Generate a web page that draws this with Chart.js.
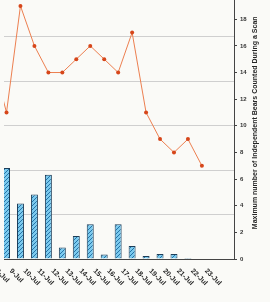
<!DOCTYPE html>
<html>
<head>
    <meta charset="utf-8">
    <title>Bears counted per scan</title>
    <script src="https://cdn.jsdelivr.net/npm/chart.js"></script> <!-- Chart.js for graphs -->
    <style>
        html, body {
            margin: 0;
            padding: 0;
            background-color: #fafaf7;
            overflow: hidden;
        }
        /* the reference is a crop of a bigger chart, so the canvas hangs off the top edge */
        #wrap {
            position: absolute;
            left: 0;
            top: -14px;
            width: 270px;
            height: 316px;
        }
    </style>
</head>
<body>
<div id="wrap"><canvas id="bearChart"></canvas></div>

<script>
    const days = ['8-Jul', '9-Jul', '10-Jul', '11-Jul', '12-Jul', '13-Jul', '14-Jul', '15-Jul',
                  '16-Jul', '17-Jul', '18-Jul', '19-Jul', '20-Jul', '21-Jul', '22-Jul', '23-Jul'];
    // line on the right axis
    const maxBears = [15, 11, 19, 16, 14, 14, 15, 16, 15, 14, 17, 11, 9, 8, 9, 7];
    // bars on the (cropped) left axis
    const bearRate = [null, 2.05, 1.25, 1.45, 1.9, 0.26, 0.52, 0.78, 0.1, 0.78, 0.29, 0.07, 0.11, 0.11, 0.02, 0];
    const rightTicks = [0, 2, 4, 6, 8, 10, 12, 14, 16, 18, 20];
    const rightTitle = 'Maximum number of Independent Bears Counted During a Scan';

    const fontFamily = '"Liberation Sans", Arial, sans-serif';

    function hatchPattern() {
        const c = document.createElement('canvas');
        c.width = 4;
        c.height = 4;
        const g = c.getContext('2d');
        g.fillStyle = '#7ccaee';
        g.fillRect(0, 0, 4, 4);
        g.strokeStyle = '#2474a8';
        g.lineWidth = 1;
        g.beginPath();
        g.moveTo(0, 4); g.lineTo(4, 0);
        g.moveTo(-1, 1); g.lineTo(1, -1);
        g.moveTo(3, 5); g.lineTo(5, 3);
        g.stroke();
        return g.createPattern(c, 'repeat');
    }

    // x labels read downwards (-45deg) and the right title reads bottom-to-top
    const sideText = {
        id: 'sideText',
        afterDraw(chart) {
            const ctx = chart.ctx;
            const x = chart.scales.x;
            const area = chart.chartArea;
            ctx.save();
            ctx.fillStyle = '#262626';
            ctx.font = 'bold 7px ' + fontFamily;
            ctx.textAlign = 'left';
            ctx.textBaseline = 'middle';
            days.forEach((d, i) => {
                ctx.save();
                ctx.translate(x.getPixelForValue(i) + 4, area.bottom + 11);
                ctx.rotate(Math.PI / 4);
                ctx.fillText(d, 0, 0);
                ctx.restore();
            });

            ctx.textAlign = 'center';
            ctx.translate(255, (area.top + area.bottom) / 2 - 3);
            ctx.rotate(-Math.PI / 2);
            ctx.fillText(rightTitle, 0, 0);
            ctx.restore();
        }
    };

    const ctx = document.getElementById('bearChart').getContext('2d');

    new Chart(ctx, {
        type: 'bar',
        data: {
            datasets: [{
                type: 'line',
                label: 'Maximum bears',
                data: days.map((d, i) => ({ x: i, y: maxBears[i] })),
                yAxisID: 'yR',
                borderColor: '#ec7f50',
                borderWidth: 1,
                pointRadius: 2,
                pointBackgroundColor: '#d6461a',
                pointBorderColor: '#d6461a',
                pointBorderWidth: 0,
                tension: 0,
                order: 0
            }, {
                type: 'bar',
                label: 'Bears',
                data: days.map((d, i) => ({ x: i, y: bearRate[i] })),
                yAxisID: 'yL',
                backgroundColor: hatchPattern(),
                borderColor: '#1d3d58',
                borderWidth: 1,
                barPercentage: 0.5,
                categoryPercentage: 1,
                order: 1
            }]
        },
        options: {
            responsive: true,
            maintainAspectRatio: false,
            animation: false,
            layout: { padding: 0 },
            plugins: {
                legend: { display: false },
                tooltip: { enabled: false }
            },
            scales: {
                x: {
                    type: 'linear',
                    offset: false,
                    min: 0.82,
                    max: 17.3,
                    ticks: { display: false },
                    grid: { drawOnChartArea: false, drawTicks: false },
                    border: { color: '#444', width: 1 },
                    afterFit: s => { s.height = 43; }
                },
                yL: {
                    position: 'left',
                    min: 0,
                    max: 6,
                    ticks: { display: false, stepSize: 1 },
                    grid: { color: '#cfcfcf', drawTicks: false },
                    border: { display: false },
                    afterFit: s => { s.width = 0; }
                },
                yR: {
                    position: 'right',
                    min: 0,
                    max: 20,
                    afterBuildTicks: s => { s.ticks = rightTicks.map(v => ({ value: v })); },
                    ticks: {
                        padding: 3,
                        color: '#333',
                        font: { size: 6, weight: 'bold', family: fontFamily }
                    },
                    grid: { drawOnChartArea: false, tickLength: 3, color: '#444' },
                    border: { color: '#444', width: 1 },
                    afterFit: s => { s.width = 36; }
                }
            }
        },
        plugins: [sideText]
    });
</script>
</body>
</html>
